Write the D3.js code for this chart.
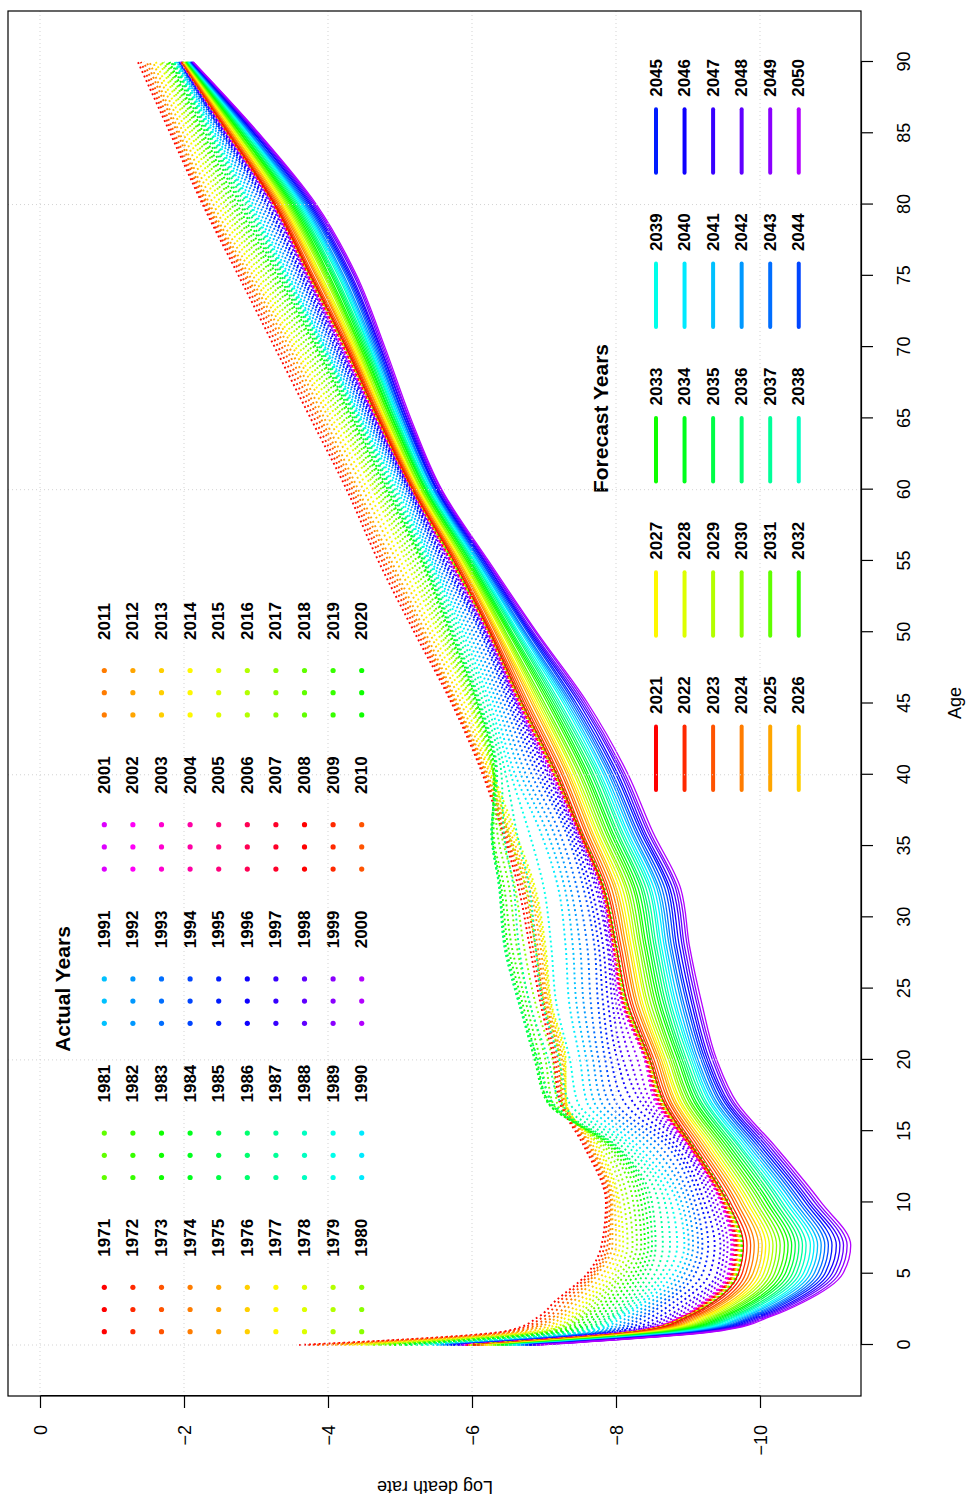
<!DOCTYPE html>
<html lang="en">
<head>
  <meta charset="UTF-8">
  <title>Log death rates – actual and forecast</title>
  <script src="https://d3js.org/d3.v7.min.js"></script>
  <style>
    body { margin: 0; background: #fff; }
    svg { display: block; }
  </style>
</head>
<body>
  <svg id="chart" width="968" height="1502"></svg>

  <script>
    const ages = [0, 1, 2, 3, 5, 7, 10, 14, 17, 20, 24, 28, 32, 36, 40, 45, 50, 55, 60, 65, 70, 75, 80, 85, 90];

    const actualYears = [
      1971, 1972, 1973, 1974, 1975, 1976, 1977, 1978, 1979, 1980,
      1981, 1982, 1983, 1984, 1985, 1986, 1987, 1988, 1989, 1990,
      1991, 1992, 1993, 1994, 1995, 1996, 1997, 1998, 1999, 2000,
      2001, 2002, 2003, 2004, 2005, 2006, 2007, 2008, 2009, 2010,
      2011, 2012, 2013, 2014, 2015, 2016, 2017, 2018, 2019, 2020
    ];

    const forecastYears = [
      2021, 2022, 2023, 2024, 2025, 2026, 2027, 2028, 2029, 2030,
      2031, 2032, 2033, 2034, 2035, 2036, 2037, 2038, 2039, 2040,
      2041, 2042, 2043, 2044, 2045, 2046, 2047, 2048, 2049, 2050
    ];

    // one row per age, one column per actual year (1971..2020)
    const actualRatesByAge = [
      [-3.60,-3.72,-3.85,-3.98,-4.10,-4.22,-4.33,-4.45,-4.55,-4.63, -4.72,-4.85,-4.92,-5.00,-5.08,-5.15,-5.22,-5.30,-5.38,-5.45,
       -5.50,-5.55,-5.60,-5.65,-5.70,-5.74,-5.80,-5.83,-5.86,-5.88, -5.89,-5.90,-5.91,-5.91,-5.92,-5.93,-5.94,-5.94,-5.95,-5.96,
       -5.96,-5.97,-5.97,-5.98,-5.98,-5.99,-5.99,-6.00,-6.00,-6.01],
      [-6.50,-6.55,-6.62,-6.68,-6.75,-6.85,-6.92,-7.00,-7.05,-7.10, -7.15,-7.20,-7.26,-7.33,-7.39,-7.45,-7.52,-7.58,-7.64,-7.70,
       -7.76,-7.83,-7.89,-7.95,-8.02,-8.08,-8.15,-8.20,-8.25,-8.30, -8.31,-8.32,-8.33,-8.33,-8.34,-8.35,-8.35,-8.36,-8.36,-8.37,
       -8.37,-8.38,-8.38,-8.38,-8.39,-8.39,-8.40,-8.40,-8.41,-8.41],
      [-6.93,-7.00,-7.07,-7.14,-7.20,-7.27,-7.33,-7.40,-7.45,-7.50, -7.55,-7.60,-7.68,-7.75,-7.83,-7.90,-7.95,-8.00,-8.05,-8.10,
       -8.18,-8.25,-8.33,-8.40,-8.50,-8.60,-8.70,-8.77,-8.84,-8.90, -8.91,-8.92,-8.93,-8.93,-8.94,-8.95,-8.95,-8.96,-8.96,-8.97,
       -8.97,-8.98,-8.98,-8.98,-8.99,-8.99,-9.00,-9.00,-9.01,-9.01],
      [-7.14,-7.20,-7.27,-7.34,-7.40,-7.47,-7.54,-7.60,-7.66,-7.72, -7.78,-7.85,-7.92,-8.00,-8.08,-8.15,-8.21,-8.27,-8.34,-8.40,
       -8.48,-8.55,-8.63,-8.70,-8.80,-8.90,-9.00,-9.07,-9.14,-9.20, -9.21,-9.22,-9.23,-9.24,-9.25,-9.26,-9.27,-9.27,-9.28,-9.29,
       -9.29,-9.30,-9.31,-9.31,-9.32,-9.32,-9.33,-9.34,-9.34,-9.35],
      [-7.60,-7.64,-7.68,-7.71,-7.75,-7.82,-7.88,-7.95,-8.01,-8.07, -8.13,-8.20,-8.26,-8.32,-8.38,-8.45,-8.54,-8.63,-8.71,-8.80,
       -8.88,-8.95,-9.03,-9.10,-9.20,-9.30,-9.40,-9.45,-9.50,-9.55, -9.56,-9.57,-9.58,-9.59,-9.60,-9.61,-9.62,-9.62,-9.63,-9.64,
       -9.64,-9.65,-9.66,-9.66,-9.67,-9.67,-9.68,-9.69,-9.69,-9.70],
      [-7.80,-7.84,-7.88,-7.91,-7.95,-8.00,-8.05,-8.10,-8.16,-8.23, -8.29,-8.35,-8.40,-8.45,-8.50,-8.55,-8.65,-8.75,-8.85,-8.95,
       -9.01,-9.07,-9.14,-9.20,-9.28,-9.37,-9.45,-9.50,-9.55,-9.60, -9.61,-9.62,-9.63,-9.64,-9.65,-9.66,-9.67,-9.68,-9.69,-9.70,
       -9.70,-9.71,-9.72,-9.72,-9.73,-9.74,-9.74,-9.75,-9.76,-9.76],
      [-7.86,-7.88,-7.91,-7.93,-7.95,-7.98,-8.02,-8.05,-8.11,-8.17, -8.24,-8.30,-8.35,-8.40,-8.45,-8.50,-8.59,-8.68,-8.76,-8.85,
       -8.91,-8.98,-9.04,-9.10,-9.17,-9.23,-9.30,-9.35,-9.40,-9.45, -9.46,-9.46,-9.47,-9.48,-9.48,-9.49,-9.50,-9.50,-9.51,-9.51,
       -9.52,-9.52,-9.53,-9.53,-9.53,-9.54,-9.54,-9.55,-9.55,-9.56],
      [-7.55,-7.58,-7.60,-7.63,-7.65,-7.68,-7.72,-7.75,-7.79,-7.83, -7.87,-7.90,-7.93,-7.95,-7.98,-8.00,-8.07,-8.15,-8.22,-8.30,
       -8.40,-8.50,-8.60,-8.70,-8.77,-8.83,-8.90,-8.93,-8.97,-9.00, -9.00,-9.01,-9.01,-9.02,-9.02,-9.02,-9.03,-9.03,-9.03,-9.04,
       -9.04,-9.04,-9.04,-9.05,-9.05,-9.05,-9.05,-9.06,-9.06,-9.06],
      [-7.22,-7.24,-7.26,-7.28,-7.30,-7.31,-7.31,-7.30,-7.25,-7.18, -7.12,-7.10,-7.06,-7.05,-7.08,-7.12,-7.23,-7.35,-7.47,-7.60,
       -7.70,-7.80,-7.90,-8.00,-8.12,-8.24,-8.35,-8.42,-8.49,-8.55, -8.56,-8.57,-8.58,-8.59,-8.60,-8.61,-8.61,-8.62,-8.62,-8.63,
       -8.63,-8.64,-8.64,-8.65,-8.65,-8.66,-8.66,-8.66,-8.67,-8.67],
      [-7.13,-7.16,-7.19,-7.22,-7.25,-7.27,-7.29,-7.30,-7.22,-7.12, -7.02,-6.95,-6.90,-6.87,-6.88,-6.92,-7.06,-7.21,-7.36,-7.50,
       -7.59,-7.68,-7.76,-7.85,-7.93,-8.02,-8.10,-8.20,-8.30,-8.40, -8.40,-8.41,-8.41,-8.42,-8.42,-8.43,-8.43,-8.44,-8.44,-8.44,
       -8.45,-8.45,-8.45,-8.46,-8.46,-8.46,-8.47,-8.47,-8.47,-8.48],
      [-6.95,-6.98,-7.00,-7.03,-7.05,-7.07,-7.09,-7.10,-7.00,-6.88, -6.80,-6.75,-6.70,-6.67,-6.65,-6.65,-6.80,-6.98,-7.17,-7.35,
       -7.45,-7.55,-7.65,-7.75,-7.82,-7.89,-7.95,-8.00,-8.04,-8.08, -8.08,-8.09,-8.09,-8.10,-8.10,-8.11,-8.11,-8.12,-8.12,-8.12,
       -8.13,-8.13,-8.13,-8.14,-8.14,-8.14,-8.15,-8.15,-8.15,-8.16],
      [-6.80,-6.84,-6.88,-6.91,-6.95,-6.98,-7.00,-7.02,-6.88,-6.72, -6.62,-6.55,-6.50,-6.47,-6.45,-6.45,-6.65,-6.88,-7.10,-7.30,
       -7.40,-7.50,-7.60,-7.70,-7.76,-7.82,-7.88,-7.90,-7.93,-7.95, -7.95,-7.96,-7.96,-7.96,-7.97,-7.97,-7.97,-7.98,-7.98,-7.98,
       -7.98,-7.99,-7.99,-7.99,-7.99,-8.00,-8.00,-8.00,-8.00,-8.01],
      [-6.65,-6.69,-6.72,-6.76,-6.80,-6.83,-6.86,-6.88,-6.75,-6.60, -6.52,-6.45,-6.41,-6.39,-6.38,-6.38,-6.58,-6.80,-7.00,-7.20,
       -7.29,-7.37,-7.46,-7.55,-7.61,-7.66,-7.72,-7.75,-7.78,-7.80, -7.80,-7.80,-7.81,-7.81,-7.81,-7.81,-7.81,-7.82,-7.82,-7.82,
       -7.82,-7.82,-7.82,-7.83,-7.83,-7.83,-7.83,-7.83,-7.84,-7.84],
      [-6.42,-6.44,-6.46,-6.48,-6.50,-6.53,-6.57,-6.60,-6.50,-6.40, -6.35,-6.30,-6.28,-6.27,-6.27,-6.28,-6.44,-6.62,-6.79,-6.95,
       -7.04,-7.13,-7.21,-7.30,-7.34,-7.38,-7.42,-7.44,-7.46,-7.48, -7.48,-7.48,-7.48,-7.49,-7.49,-7.49,-7.49,-7.49,-7.49,-7.50,
       -7.50,-7.50,-7.50,-7.50,-7.50,-7.50,-7.51,-7.51,-7.51,-7.51],
      [-6.15,-6.17,-6.18,-6.20,-6.22,-6.25,-6.27,-6.30,-6.30,-6.30, -6.30,-6.30,-6.31,-6.33,-6.34,-6.35,-6.41,-6.47,-6.54,-6.60,
       -6.68,-6.75,-6.83,-6.90,-6.95,-7.00,-7.05,-7.07,-7.10,-7.12, -7.12,-7.13,-7.13,-7.14,-7.14,-7.14,-7.15,-7.15,-7.15,-7.16,
       -7.16,-7.16,-7.16,-7.17,-7.17,-7.17,-7.17,-7.18,-7.18,-7.18],
      [-5.72,-5.74,-5.76,-5.78,-5.80,-5.85,-5.90,-5.95,-5.98,-6.00, -6.03,-6.05,-6.07,-6.08,-6.10,-6.12,-6.16,-6.21,-6.25,-6.30,
       -6.35,-6.40,-6.45,-6.50,-6.53,-6.57,-6.60,-6.62,-6.63,-6.65, -6.65,-6.66,-6.66,-6.66,-6.67,-6.67,-6.67,-6.67,-6.68,-6.68,
       -6.68,-6.68,-6.69,-6.69,-6.69,-6.69,-6.70,-6.70,-6.70,-6.70],
      [-5.20,-5.24,-5.28,-5.31,-5.35,-5.41,-5.46,-5.52,-5.56,-5.60, -5.63,-5.67,-5.69,-5.71,-5.73,-5.75,-5.79,-5.83,-5.87,-5.91,
       -5.96,-6.01,-6.06,-6.11,-6.13,-6.16,-6.18,-6.19,-6.21,-6.22, -6.22,-6.22,-6.23,-6.23,-6.23,-6.23,-6.23,-6.24,-6.24,-6.24,
       -6.24,-6.24,-6.24,-6.24,-6.25,-6.25,-6.25,-6.25,-6.25,-6.25],
      [-4.70,-4.75,-4.79,-4.84,-4.88,-4.95,-5.01,-5.08,-5.13,-5.18, -5.23,-5.28,-5.30,-5.32,-5.33,-5.35,-5.37,-5.40,-5.42,-5.44,
       -5.47,-5.50,-5.54,-5.57,-5.60,-5.62,-5.65,-5.67,-5.69,-5.70, -5.70,-5.71,-5.71,-5.71,-5.72,-5.72,-5.72,-5.72,-5.72,-5.73,
       -5.73,-5.73,-5.73,-5.73,-5.73,-5.74,-5.74,-5.74,-5.74,-5.74],
      [-4.26,-4.30,-4.34,-4.38,-4.42,-4.49,-4.55,-4.62,-4.66,-4.70, -4.74,-4.78,-4.81,-4.83,-4.86,-4.88,-4.90,-4.93,-4.96,-4.99,
       -5.02,-5.05,-5.08,-5.10,-5.12,-5.13,-5.15,-5.15,-5.16,-5.17, -5.17,-5.17,-5.17,-5.17,-5.17,-5.17,-5.18,-5.18,-5.18,-5.18,
       -5.18,-5.18,-5.18,-5.18,-5.18,-5.18,-5.18,-5.19,-5.19,-5.19],
      [-3.76,-3.81,-3.86,-3.90,-3.95,-4.01,-4.06,-4.12,-4.17,-4.21, -4.26,-4.30,-4.33,-4.35,-4.38,-4.40,-4.42,-4.44,-4.45,-4.47,
       -4.50,-4.53,-4.55,-4.58,-4.60,-4.62,-4.64,-4.65,-4.66,-4.67, -4.67,-4.67,-4.68,-4.68,-4.68,-4.68,-4.68,-4.69,-4.69,-4.69,
       -4.69,-4.69,-4.69,-4.69,-4.70,-4.70,-4.70,-4.70,-4.70,-4.70],
      [-3.26,-3.31,-3.36,-3.41,-3.46,-3.51,-3.55,-3.60,-3.65,-3.70, -3.75,-3.80,-3.83,-3.85,-3.88,-3.90,-3.92,-3.93,-3.95,-3.96,
       -3.99,-4.02,-4.05,-4.08,-4.10,-4.13,-4.15,-4.17,-4.18,-4.20, -4.20,-4.21,-4.21,-4.22,-4.22,-4.22,-4.23,-4.23,-4.23,-4.23,
       -4.24,-4.24,-4.24,-4.24,-4.24,-4.25,-4.25,-4.25,-4.25,-4.25],
      [-2.76,-2.80,-2.84,-2.87,-2.91,-2.96,-3.01,-3.06,-3.11,-3.16, -3.21,-3.25,-3.29,-3.32,-3.35,-3.38,-3.40,-3.42,-3.44,-3.46,
       -3.50,-3.53,-3.57,-3.60,-3.63,-3.65,-3.68,-3.70,-3.71,-3.72, -3.72,-3.73,-3.73,-3.73,-3.74,-3.74,-3.74,-3.74,-3.75,-3.75,
       -3.75,-3.75,-3.75,-3.75,-3.76,-3.76,-3.76,-3.76,-3.76,-3.77],
      [-2.26,-2.28,-2.31,-2.33,-2.36,-2.41,-2.47,-2.52,-2.57,-2.61, -2.66,-2.70,-2.74,-2.78,-2.81,-2.85,-2.88,-2.91,-2.93,-2.96,
       -3.00,-3.04,-3.08,-3.12,-3.15,-3.17,-3.20,-3.22,-3.23,-3.24, -3.24,-3.24,-3.25,-3.25,-3.25,-3.25,-3.25,-3.25,-3.26,-3.26,
       -3.26,-3.26,-3.26,-3.26,-3.26,-3.26,-3.27,-3.27,-3.27,-3.27],
      [-1.81,-1.84,-1.87,-1.91,-1.94,-1.99,-2.04,-2.09,-2.13,-2.17, -2.21,-2.24,-2.27,-2.30,-2.33,-2.35,-2.37,-2.39,-2.41,-2.43,
       -2.46,-2.48,-2.51,-2.53,-2.54,-2.56,-2.57,-2.58,-2.59,-2.60, -2.60,-2.60,-2.60,-2.61,-2.61,-2.61,-2.61,-2.61,-2.61,-2.61,
       -2.62,-2.62,-2.62,-2.62,-2.62,-2.62,-2.62,-2.62,-2.63,-2.63],
      [-1.36,-1.40,-1.44,-1.48,-1.52,-1.57,-1.61,-1.66,-1.69,-1.72, -1.75,-1.78,-1.80,-1.82,-1.84,-1.86,-1.87,-1.88,-1.89,-1.90,
       -1.91,-1.92,-1.93,-1.94,-1.94,-1.95,-1.95,-1.95,-1.96,-1.96, -1.96,-1.96,-1.96,-1.96,-1.96,-1.97,-1.97,-1.97,-1.97,-1.97,
       -1.97,-1.97,-1.97,-1.97,-1.97,-1.97,-1.97,-1.97,-1.98,-1.98]
    ];

    // one row per age, one column per forecast year (2021..2050)
    const forecastRatesByAge = [
      [-6.00,-6.03,-6.06,-6.10,-6.13,-6.16,-6.19,-6.22,-6.26,-6.29,-6.32,-6.35,-6.39,-6.42,-6.45,-6.48,-6.51,-6.55,-6.58,-6.61,-6.64,-6.67,-6.71,-6.74,-6.77,-6.80,-6.83,-6.87,-6.90,-6.93],
      [-8.40,-8.44,-8.47,-8.51,-8.55,-8.58,-8.62,-8.66,-8.69,-8.73,-8.77,-8.80,-8.84,-8.88,-8.91,-8.95,-8.99,-9.02,-9.06,-9.10,-9.13,-9.17,-9.21,-9.24,-9.28,-9.32,-9.35,-9.39,-9.42,-9.46],
      [-9.00,-9.04,-9.08,-9.12,-9.16,-9.20,-9.24,-9.28,-9.32,-9.36,-9.40,-9.44,-9.48,-9.52,-9.56,-9.60,-9.64,-9.67,-9.71,-9.75,-9.79,-9.83,-9.87,-9.91,-9.95,-9.99,-10.03,-10.07,-10.11,-10.15],
      [-9.35,-9.39,-9.44,-9.48,-9.52,-9.57,-9.61,-9.65,-9.69,-9.74,-9.78,-9.82,-9.87,-9.91,-9.95,-10.00,-10.04,-10.08,-10.13,-10.17,-10.21,-10.26,-10.30,-10.34,-10.38,-10.43,-10.47,-10.51,-10.56,-10.60],
      [-9.70,-9.75,-9.80,-9.85,-9.90,-9.95,-10.00,-10.05,-10.10,-10.15,-10.20,-10.25,-10.30,-10.35,-10.40,-10.45,-10.50,-10.55,-10.60,-10.65,-10.70,-10.75,-10.80,-10.85,-10.90,-10.95,-11.00,-11.05,-11.10,-11.15],
      [-9.77,-9.82,-9.87,-9.92,-9.98,-10.03,-10.08,-10.13,-10.18,-10.23,-10.28,-10.34,-10.39,-10.44,-10.49,-10.54,-10.59,-10.64,-10.70,-10.75,-10.80,-10.85,-10.90,-10.95,-11.00,-11.06,-11.11,-11.16,-11.21,-11.26],
      [-9.55,-9.59,-9.64,-9.68,-9.73,-9.77,-9.82,-9.86,-9.91,-9.95,-10.00,-10.04,-10.09,-10.13,-10.18,-10.22,-10.27,-10.31,-10.36,-10.40,-10.45,-10.49,-10.54,-10.58,-10.63,-10.67,-10.71,-10.76,-10.80,-10.85],
      [-9.05,-9.09,-9.13,-9.17,-9.21,-9.25,-9.29,-9.33,-9.37,-9.41,-9.45,-9.49,-9.53,-9.57,-9.61,-9.65,-9.69,-9.72,-9.76,-9.80,-9.84,-9.88,-9.92,-9.96,-10.00,-10.04,-10.08,-10.12,-10.16,-10.20],
      [-8.67,-8.70,-8.74,-8.77,-8.81,-8.84,-8.88,-8.91,-8.95,-8.98,-9.02,-9.05,-9.09,-9.12,-9.16,-9.19,-9.23,-9.26,-9.30,-9.33,-9.37,-9.40,-9.44,-9.47,-9.51,-9.54,-9.57,-9.61,-9.64,-9.68],
      [-8.47,-8.50,-8.53,-8.57,-8.60,-8.63,-8.66,-8.69,-8.73,-8.76,-8.79,-8.82,-8.86,-8.89,-8.92,-8.95,-8.98,-9.02,-9.05,-9.08,-9.11,-9.14,-9.18,-9.21,-9.24,-9.27,-9.30,-9.34,-9.37,-9.40],
      [-8.16,-8.20,-8.23,-8.27,-8.30,-8.34,-8.37,-8.41,-8.44,-8.48,-8.52,-8.55,-8.59,-8.62,-8.66,-8.69,-8.73,-8.76,-8.80,-8.83,-8.87,-8.91,-8.94,-8.98,-9.01,-9.05,-9.08,-9.12,-9.15,-9.19],
      [-8.00,-8.04,-8.07,-8.11,-8.14,-8.18,-8.21,-8.25,-8.28,-8.32,-8.35,-8.39,-8.42,-8.46,-8.49,-8.53,-8.56,-8.60,-8.63,-8.67,-8.70,-8.74,-8.77,-8.81,-8.84,-8.88,-8.92,-8.95,-8.99,-9.02],
      [-7.83,-7.87,-7.90,-7.94,-7.98,-8.01,-8.05,-8.09,-8.13,-8.16,-8.20,-8.24,-8.27,-8.31,-8.35,-8.38,-8.42,-8.46,-8.49,-8.53,-8.57,-8.60,-8.64,-8.68,-8.72,-8.75,-8.79,-8.83,-8.86,-8.90],
      [-7.50,-7.53,-7.57,-7.60,-7.64,-7.67,-7.71,-7.74,-7.78,-7.81,-7.85,-7.88,-7.92,-7.95,-7.99,-8.02,-8.06,-8.09,-8.13,-8.16,-8.20,-8.23,-8.27,-8.30,-8.34,-8.37,-8.40,-8.44,-8.47,-8.51],
      [-7.18,-7.21,-7.25,-7.28,-7.32,-7.35,-7.38,-7.42,-7.45,-7.49,-7.52,-7.56,-7.59,-7.62,-7.66,-7.69,-7.73,-7.76,-7.79,-7.83,-7.86,-7.90,-7.93,-7.96,-8.00,-8.03,-8.07,-8.10,-8.13,-8.17],
      [-6.70,-6.73,-6.76,-6.79,-6.83,-6.86,-6.89,-6.92,-6.95,-6.98,-7.01,-7.05,-7.08,-7.11,-7.14,-7.17,-7.20,-7.23,-7.27,-7.30,-7.33,-7.36,-7.39,-7.42,-7.45,-7.49,-7.52,-7.55,-7.58,-7.61],
      [-6.25,-6.27,-6.29,-6.32,-6.34,-6.36,-6.38,-6.41,-6.43,-6.45,-6.47,-6.50,-6.52,-6.54,-6.56,-6.59,-6.61,-6.63,-6.65,-6.68,-6.70,-6.72,-6.74,-6.77,-6.79,-6.81,-6.83,-6.85,-6.88,-6.90],
      [-5.75,-5.77,-5.78,-5.80,-5.82,-5.83,-5.85,-5.87,-5.88,-5.90,-5.92,-5.93,-5.95,-5.97,-5.98,-6.00,-6.02,-6.03,-6.05,-6.07,-6.08,-6.10,-6.12,-6.13,-6.15,-6.17,-6.18,-6.20,-6.21,-6.23],
      [-5.18,-5.19,-5.21,-5.22,-5.24,-5.25,-5.26,-5.28,-5.29,-5.30,-5.32,-5.33,-5.35,-5.36,-5.37,-5.39,-5.40,-5.41,-5.43,-5.44,-5.46,-5.47,-5.48,-5.50,-5.51,-5.52,-5.54,-5.55,-5.57,-5.58],
      [-4.70,-4.72,-4.73,-4.75,-4.76,-4.78,-4.79,-4.81,-4.82,-4.84,-4.86,-4.87,-4.89,-4.90,-4.92,-4.93,-4.95,-4.96,-4.98,-4.99,-5.01,-5.03,-5.04,-5.06,-5.07,-5.09,-5.10,-5.12,-5.13,-5.15],
      [-4.25,-4.27,-4.29,-4.31,-4.32,-4.34,-4.36,-4.38,-4.40,-4.42,-4.44,-4.45,-4.47,-4.49,-4.51,-4.53,-4.55,-4.57,-4.58,-4.60,-4.62,-4.64,-4.66,-4.68,-4.70,-4.72,-4.73,-4.75,-4.77,-4.79],
      [-3.76,-3.78,-3.80,-3.83,-3.85,-3.87,-3.89,-3.91,-3.94,-3.96,-3.98,-4.00,-4.02,-4.05,-4.07,-4.09,-4.11,-4.14,-4.16,-4.18,-4.20,-4.22,-4.25,-4.27,-4.29,-4.31,-4.33,-4.36,-4.38,-4.40],
      [-3.26,-3.28,-3.30,-3.32,-3.34,-3.36,-3.38,-3.40,-3.42,-3.44,-3.46,-3.48,-3.50,-3.52,-3.54,-3.56,-3.58,-3.60,-3.62,-3.64,-3.66,-3.68,-3.70,-3.72,-3.74,-3.76,-3.78,-3.80,-3.82,-3.84],
      [-2.62,-2.63,-2.65,-2.66,-2.68,-2.69,-2.71,-2.72,-2.74,-2.75,-2.76,-2.78,-2.79,-2.81,-2.82,-2.84,-2.85,-2.87,-2.88,-2.90,-2.91,-2.92,-2.94,-2.95,-2.97,-2.98,-3.00,-3.01,-3.03,-3.04],
      [-1.970,-1.976,-1.981,-1.987,-1.992,-1.998,-2.003,-2.009,-2.014,-2.020,-2.025,-2.031,-2.036,-2.042,-2.047,-2.053,-2.058,-2.064,-2.069,-2.075,-2.080,-2.086,-2.091,-2.097,-2.102,-2.108,-2.113,-2.119,-2.124,-2.130]
    ];

    const ageTicks  = [0, 5, 10, 15, 20, 25, 30, 35, 40, 45, 50, 55, 60, 65, 70, 75, 80, 85, 90];
    const rateTicks = [0, -2, -4, -6, -8, -10];
    const ageGrid   = [0, 20, 40, 60, 80];

    const FONT = "'Liberation Sans', Arial, Helvetica, sans-serif";

    // R style rainbow(37), recycled
    const rainbow = i => d3.hsl((i % 37) / 37 * 360, 1, 0.5).formatHex();

    const svg = d3.select("#chart");
    // the whole plot is drawn landscape (1502 x 968) and turned a quarter left
    const g = svg.append("g").attr("transform", "translate(0,1502) rotate(-90)");

    const x = d3.scaleLinear().domain([0, 90]).range([157, 1440]);
    const y = d3.scaleLinear().domain([0, -10]).range([40, 760]);

    const line = d3.line()
      .defined(d => d[1] != null)
      .x(d => x(d[0]))
      .y(d => y(d[1]))
      .curve(d3.curveMonotoneX);

    const actualSeries = actualYears.map((yr, j) => ({
      year: yr, idx: j,
      values: ages.map((a, i) => [a, actualRatesByAge[i][j]])
    }));
    const forecastSeries = forecastYears.map((yr, j) => ({
      year: yr, idx: j,
      values: ages.map((a, i) => [a, forecastRatesByAge[i][j]])
    }));

    // actual years, dotted
    g.append("g")
      .selectAll("path")
      .data(actualSeries)
      .join("path")
        .attr("d", d => line(d.values))
        .attr("fill", "none")
        .attr("stroke", d => rainbow(d.idx))
        .attr("stroke-width", 1.9)
        .attr("stroke-dasharray", "1.9,3");

    // forecast years, solid
    g.append("g")
      .selectAll("path")
      .data(forecastSeries)
      .join("path")
        .attr("d", d => line(d.values))
        .attr("fill", "none")
        .attr("stroke", d => rainbow(d.idx))
        .attr("stroke-width", 1.3);

    // legend: actual years
    const actLeg = g.append("g")
      .attr("font-family", FONT)
      .attr("font-weight", "bold")
      .attr("font-size", 17);
    actLeg.append("text")
      .attr("x", 513).attr("y", 70)
      .attr("text-anchor", "middle")
      .attr("font-size", 21)
      .text("Actual Years");
    actualSeries.forEach(d => {
      const col = Math.floor(d.idx / 10), row = d.idx % 10;
      const u0 = 170.3 + col * 154.2, v = 104.3 + row * 28.6;
      [0, 22.2, 44.4].forEach(dx => {
        actLeg.append("circle")
          .attr("cx", u0 + dx).attr("cy", v).attr("r", 2.6)
          .attr("fill", rainbow(d.idx));
      });
      actLeg.append("text")
        .attr("x", u0 + 75).attr("y", v)
        .attr("dominant-baseline", "central")
        .text(d.year);
    });

    // legend: forecast years
    const fcLeg = g.append("g")
      .attr("font-family", FONT)
      .attr("font-weight", "bold")
      .attr("font-size", 17);
    fcLeg.append("text")
      .attr("x", 1083.5).attr("y", 608)
      .attr("text-anchor", "middle")
      .attr("font-size", 21)
      .text("Forecast Years");
    forecastSeries.forEach(d => {
      const col = Math.floor(d.idx / 6), row = d.idx % 6;
      const u0 = 712 + col * 154.3, v = 656 + row * 28.55;
      fcLeg.append("line")
        .attr("x1", u0).attr("x2", u0 + 63.5)
        .attr("y1", v).attr("y2", v)
        .attr("stroke", rainbow(d.idx))
        .attr("stroke-width", 4)
        .attr("stroke-linecap", "round");
      fcLeg.append("text")
        .attr("x", u0 + 76).attr("y", v)
        .attr("dominant-baseline", "central")
        .text(d.year);
    });

    // dotted grid, on top as in the original
    const grid = g.append("g")
      .attr("stroke", "#d3d3d3")
      .attr("stroke-width", 1)
      .attr("stroke-dasharray", "1,3");
    ageGrid.forEach(a => {
      grid.append("line").attr("x1", x(a)).attr("x2", x(a)).attr("y1", 8).attr("y2", 861);
    });
    rateTicks.forEach(r => {
      grid.append("line").attr("x1", 106).attr("x2", 1491).attr("y1", y(r)).attr("y2", y(r));
    });

    // axes
    const ageAxis = g.append("g")
      .attr("transform", "translate(0,861)")
      .call(d3.axisBottom(x).tickValues(ageTicks).tickSize(12).tickSizeOuter(0).tickPadding(24));
    const rateAxis = g.append("g")
      .attr("transform", "translate(106,0)")
      .call(d3.axisLeft(y).tickValues(rateTicks).tickSize(12).tickSizeOuter(0).tickPadding(17));
    [ageAxis, rateAxis].forEach(ax => {
      ax.attr("font-family", FONT).attr("font-size", 18);
      ax.selectAll("line, path").attr("stroke", "#000").attr("stroke-width", 1.2);
      ax.selectAll("text").attr("fill", "#000");
    });
    rateAxis.selectAll("text").attr("dy", null).attr("dominant-baseline", "central");

    // box
    g.append("rect")
      .attr("x", 106).attr("y", 8)
      .attr("width", 1491 - 106).attr("height", 861 - 8)
      .attr("fill", "none")
      .attr("stroke", "#000")
      .attr("stroke-width", 1.2);

    // axis titles
    g.append("text")
      .attr("x", 799).attr("y", 955)
      .attr("text-anchor", "middle")
      .attr("dominant-baseline", "central")
      .attr("font-family", FONT).attr("font-size", 18)
      .text("Age");
    g.append("text")
      .attr("transform", "translate(15,435) rotate(-90)")
      .attr("text-anchor", "middle")
      .attr("dominant-baseline", "central")
      .attr("font-family", FONT).attr("font-size", 18)
      .text("Log death rate");
  </script>
</body>
</html>
